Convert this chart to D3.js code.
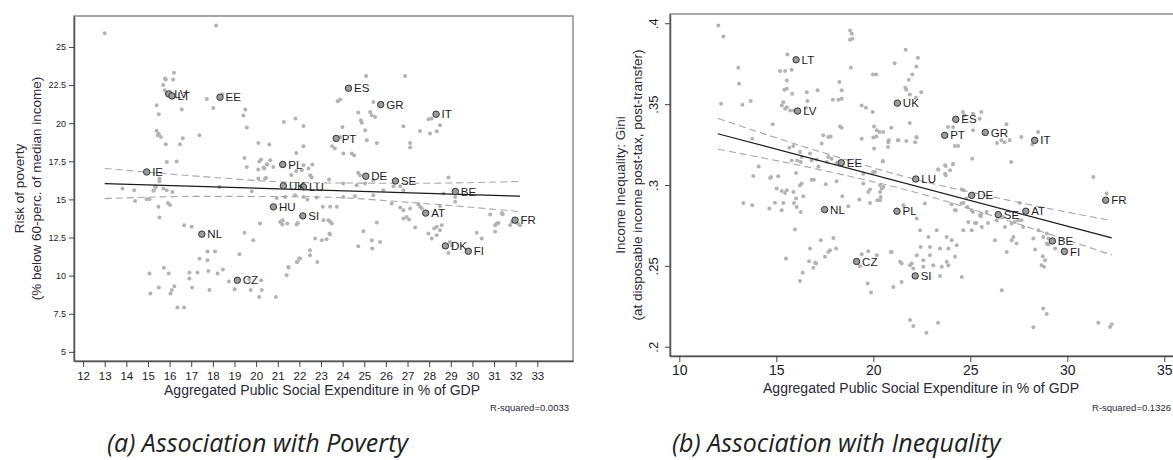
<!DOCTYPE html>
<html>
<head>
<meta charset="utf-8">
<script src="https://cdn.jsdelivr.net/npm/d3@7"></script>
<style>
  body { margin: 0; background: #fff; }
  svg { display: block; font-family: "Liberation Sans", Arial, sans-serif; }
  .caption { font-family: "Open Sans", sans-serif; font-style: italic; }
</style>
</head>
<body>
<svg id="chart" width="1173" height="460"></svg>
<script>
// --- Panel (a): poverty vs. social expenditure ---
const povPoints = [
  [13.0,25.9],[18.15,26.4],
  [15.82,22.86],[16.2,23.3],[16.16,22.86],[15.7,22.5],[15.78,22.16],[15.87,21.98],[15.79,22.93],
  [15.4,21.18],[15.5,20.59],[16.56,20.9],[17.72,21.59],[18.02,21.0],[18.43,21.9],
  [19.5,20.9],[19.41,20.5],[19.57,19.71],[21.28,20.08],[21.82,20.3],[22.19,19.81],
  [15.4,19.5],[15.5,19.3],[15.6,19.1],[15.45,19.2],[15.82,18.62],[16.48,18.62],[16.61,19.01],[17.38,19.21],
  [20.1,18.7],[20.61,18.6],[19.46,17.72],[19.57,17.13],[20.15,17.48],[20.49,17.31],[20.1,16.96],[20.38,17.03],[20.8,17.13],[20.46,16.41],[21.85,16.87],[21.63,16.6],
  [15.87,17.46],[16.33,17.49],[15.53,16.19],[13.82,15.71],[14.36,15.6],[14.4,14.9],[14.94,15.01],[15.07,15.01],[15.28,15.6],[15.37,15.82],[15.87,15.6],[16.13,15.49],[15.48,14.51],[15.92,14.77],[16.02,14.64],[15.53,13.81],[16.67,13.31],[17.02,13.2],
  [18.3,15.82],[19.8,15.54],[20.18,13.42],[21.18,13.59],[21.44,13.42],[21.93,13.46],
  [15.07,10.14],[15.11,8.83],[15.5,9.22],[15.73,10.51],[15.96,10.14],[16.04,8.83],[16.22,9.31],[16.36,7.91],[16.67,7.91],[16.92,10.21],[17.04,9.22],[17.29,10.21],[17.38,11.1],[17.75,11.58],[17.75,11.01],[17.79,10.31],[17.84,9.05],[18.1,11.58],[18.22,10.14],[18.46,10.4],[18.74,9.62],[19.01,9.11],[19.46,12.81],[19.23,11.41],[19.75,9.05],[19.87,12.32],[20.23,9.7],[20.14,8.6],[20.91,8.6],[21.41,10.03],[21.5,10.53],[21.91,10.9],[22.03,11.12],
  [22.19,18.49],[21.85,18.05],[23.88,21.55],[23.77,21.44],[23.99,19.75],[23.51,18.49],[23.64,18.34],[24.03,18.01],
  [20.23,17.62],[20.65,17.57],[20.52,17.29],[20.34,17.09],
  [22.19,17.24],[22.6,17.29],[22.42,17.03],[22.11,16.92],[22.5,16.59],[22.57,16.44],[23.37,16.3],[20.41,16.37],[20.1,16.37],
  [15.53,16.37],[15.33,15.87],[15.71,15.71],[15.25,15.56],
  [20.95,15.1],[21.34,15.16],[21.8,15.28],[22.19,15.16],[22.37,14.99],
  [22.8,15.12],[23.08,14.51],[23.42,14.51],[23.73,14.51],
  [21.23,13.64],[21.21,13.36],[21.87,13.36],[23.11,13.64],[23.42,13.53],[23.5,13.42],
  [23.39,12.77],[23.04,12.32],[22.73,12.43],[22.49,11.67],[22.49,11.34],[22.83,10.9],[21.99,11.12],[21.88,10.9],[21.49,10.57],
  [16.91,9.81],[19.68,9.77],[20.26,9.05],[16.1,9.05],
  [25.08,23.1],[26.89,23.1],[25.42,21.39],[25.27,20.74],[25.35,20.52],[25.5,20.41],[24.72,20.7],[24.84,20.2],[24.88,20.02],[23.88,19.1],[25.04,19.54],[25.12,18.88],[25.58,18.7],
  [26.81,19.8],[27.58,19.49],[28.04,19.32],[28.35,19.47],[28.12,20.3],[27.97,20.26],[28.5,19.87],[27.12,18.7],[27.12,18.4],
  [24.42,18.01],[24.53,17.9],[24.72,16.74],[24.8,16.59],
  [24.03,16.04],[24.65,15.93],[25.04,16.04],[25.42,16.26],[25.88,15.6],[26.35,15.87],[26.66,15.87],[26.81,15.6],
  [24.03,15.16],[24.57,15.21],[25.42,15.28],[28.89,16.44],[28.66,15.39],[29.2,15.16],[29.2,14.84],
  [26.27,14.73],[26.66,14.47],[26.81,14.29],[27.12,14.4],[27.5,14.69],[27.58,14.51],[27.66,14.4],[28.5,14.57],
  [27.35,13.16],[26.96,13.85],[26.81,13.75],[27.07,13.68],
  [27.97,12.77],[28.12,12.44],[28.35,12.65],[28.5,12.98],[28.58,13.31],[28.35,13.2],[28.23,13.09],
  [28.96,12.21],[28.89,11.49],[29.05,11.99],[30.2,12.81],[30.43,12.44],
  [30.82,14.01],[31.36,14.11],[31.12,13.42],[31.05,13.31],[31.2,13.46],[31.05,12.87],[31.74,13.31],[31.82,13.52],[32.1,13.42],[31.4,14.02],[32.2,13.31],
  [25.58,13.49],[24.96,12.91],[25.35,12.32],[25.73,12.21],[25.37,11.78],[24.72,11.93],
  [23.26,12.39],[23.42,12.7],[23.34,13.64],[21.11,13.52]
];
const povCountries = ["IE","LV","LT","EE","PL","UK","LU","HU","SI","NL","CZ","PT","ES","GR","IT","DE","SE","BE","AT","FR","DK","FI"];
const povCountryX  = [14.94,15.96,16.11,18.33,21.23,21.26,22.19,20.8,22.16,17.49,19.13,23.7,24.27,25.76,28.32,25.07,26.44,29.21,27.84,31.97,28.75,29.81];
const povCountryY  = [16.8,21.92,21.79,21.7,17.29,15.89,15.82,14.51,13.92,12.72,9.7,19.0,22.29,21.22,20.59,16.52,16.21,15.52,14.1,13.64,11.95,11.6];
const povFitX   = [13, 32.2];
const povFitY   = [16.04, 15.21];
const povBandX  = [13, 17.5, 22.5, 27.5, 32.2];
const povUpper  = [17.03, 16.5, 16.09, 16.06, 16.18];
const povLower  = [15.05, 15.2, 15.17, 14.76, 14.2];
const povXTicks = d3.range(12, 34);
const povYTicks = [5, 7.5, 10, 12.5, 15, 17.5, 20, 22.5, 25];

// --- Panel (b): inequality vs. social expenditure ---
const giniPoints = [
  [12.01,0.3986],[12.27,0.3918],[18.8,0.3955],[18.89,0.3935],[18.8,0.3898],[18.92,0.3904],
  [15.57,0.3807],[15.19,0.3704],[15.45,0.3704],[15.79,0.3712],[13.04,0.3725],[13.08,0.3626],
  [15.54,0.3646],[15.54,0.3595],[15.41,0.3589],[15.82,0.3564],[16.57,0.3574],[17.13,0.3585],
  [18.25,0.3636],[18.37,0.3585],[18.84,0.3725],[17.91,0.3527],[18.2,0.3527],[18.37,0.3533],[20.14,0.3683],
  [15.36,0.3512],[15.28,0.3492],[15.54,0.3481],[15.71,0.3461],[15.91,0.3461],[15.45,0.3472],
  [16.6,0.3519],[16.53,0.3478],[12.15,0.3502],[13.25,0.3496],[13.68,0.3519],
  [14.81,0.3375],[13.76,0.3286],[14.09,0.3115],[13.81,0.3056],[14.73,0.305],[15.1,0.3054],[14.68,0.3043],
  [15.67,0.3231],[15.88,0.3241],[16.22,0.3204],[15.79,0.3152],[16.08,0.3152],[16.31,0.3173],[16.26,0.3142],
  [16.02,0.3074],[16.22,0.2998],[16.31,0.3009],
  [15.02,0.2978],[15.28,0.2963],[15.45,0.2951],[15.54,0.2967],[15.88,0.2957],[16.02,0.2916],[16.39,0.293],[15.36,0.2889],[15.91,0.2889],[16.05,0.2864],[16.26,0.2833],[15.28,0.2844],
  [13.3,0.2889],[13.76,0.2875],[14.64,0.2854],[14.93,0.2891],
  [16.74,0.3194],[16.82,0.3152],[17.08,0.3157],[17.34,0.3256],[17.68,0.3296],[17.8,0.33],[18.28,0.3362],[18.37,0.3354],[17.42,0.3307],
  [16.82,0.3033],[16.94,0.3033],[17.55,0.3004],[18.11,0.3023],
  [17.17,0.3115],[17.6,0.3142],[17.68,0.3173],[17.85,0.3163],[18.11,0.3136],[18.4,0.293],[18.71,0.2869],
  [19.4,0.3492],[19.62,0.3478],[19.97,0.3451],[20.04,0.3362],[20.18,0.3338],[20.0,0.3293],[20.52,0.3327],
  [19.4,0.3286],[20.04,0.3225],[20.48,0.3146],[19.48,0.307],[20.09,0.308],
  [19.48,0.3009],[19.83,0.2972],[19.28,0.291],[19.74,0.2957],[20.21,0.2906],[20.43,0.2978],[20.38,0.2926],[19.83,0.2889],
  [15.96,0.2725],
  [16.74,0.2607],[17.29,0.2659],[17.94,0.2673],[18.08,0.2607],[17.77,0.2597],[17.68,0.2586],[17.51,0.2556],[17.0,0.2519],[17.05,0.2515],[16.69,0.2529],[16.91,0.2488],[16.36,0.2457],[16.22,0.2406],[15.5,0.2546],
  [19.4,0.2572],[19.74,0.2591],[20.18,0.2566],[19.31,0.2498],[19.71,0.2391],[19.88,0.2336],[20.91,0.2586],
  [21.46,0.2515],[21.89,0.2504],[22.06,0.2484],[21.03,0.237],[21.46,0.2401],
  [21.89,0.2165],[22.06,0.2128],[22.74,0.2086],[23.34,0.2148],
  [20.77,0.3265],[21.29,0.3276],[22.24,0.3293],[22.15,0.3265],
  [20.35,0.2998],[20.52,0.2988],[20.35,0.2957],[20.35,0.2906],
  [21.55,0.2875],[22.66,0.2885],[22.24,0.2793],
  [24.56,0.2972],[24.64,0.2889],[24.21,0.2844],[24.85,0.2864],[25.07,0.2844],[24.9,0.2772],[25.24,0.2765],[25.54,0.2807],[24.64,0.272],
  [23.7,0.3122],[24.12,0.3132],[23.35,0.3095],[23.7,0.307],[23.95,0.3091],
  [22.41,0.272],[22.84,0.2679],[23.27,0.272],[22.44,0.2617],[22.92,0.2617],[23.44,0.2607],[23.78,0.2679],[23.87,0.2607],[24.04,0.2659],[24.3,0.2628],[24.21,0.2556],
  [22.24,0.2566],[22.92,0.2566],[22.58,0.2535],[21.98,0.2515],[22.58,0.2494],[23.09,0.2504],[23.53,0.2494],[23.87,0.2504],[23.44,0.2438],[23.78,0.2525],[21.38,0.2525],[20.95,0.2586],
  [24.56,0.2432],
  [25.07,0.272],[25.59,0.2741],[26.27,0.2659],[26.88,0.2586],[27.13,0.2659],[27.39,0.2638],[27.22,0.2679],
  [26.62,0.235],
  [25.5,0.2813],[25.84,0.2833],[26.36,0.2782],[26.79,0.2741],[27.13,0.2762],[27.73,0.2741],[27.47,0.2782],
  [28.25,0.2669],[28.76,0.2679],[28.34,0.2601],[28.94,0.2638],[28.73,0.256],[28.85,0.2535],[28.8,0.2494],[28.68,0.2504],[29.02,0.2632],[29.37,0.2607],[29.02,0.2669],[28.51,0.272],[28.94,0.27],
  [28.76,0.2237],[28.94,0.2202],[28.25,0.212],
  [31.6,0.2148],[32.2,0.2123],[32.29,0.214],[31.34,0.3049],[32.03,0.2947],
  [21.67,0.3836],[22.3,0.3786],[22.22,0.3733],[22.01,0.3683],[21.83,0.365],[21.65,0.3601],[21.7,0.3589],[21.88,0.356],[22.47,0.3574],[22.19,0.354],[21.1,0.3753],[19.98,0.3683],
  [20.33,0.3327],[20.93,0.3354],[21.27,0.3276],[20.76,0.3235],[20.16,0.33],[20.8,0.3276],[22.22,0.3296],[21.7,0.3272],[21.88,0.3383],
  [20.5,0.3148],[19.98,0.308],
  [23.34,0.3097],[23.73,0.3117],[24.1,0.3126],[23.73,0.306],[25.1,0.3163],[27.11,0.3142],[26.86,0.3375],[27.63,0.3296],[26.77,0.3265],[27.03,0.3276],[25.14,0.3338],
  [24.62,0.3451],[24.71,0.343],[25.14,0.3441],[25.57,0.3451],[25.48,0.341],[23.85,0.3358],[24.11,0.3358],[24.2,0.3241],[24.37,0.3241],
  [26.38,0.3259],[26.6,0.3276],[28.49,0.3327],[28.2,0.3251],
  [27.55,0.2889],
  [24.66,0.2967],[24.79,0.2916],[24.54,0.2885],[24.25,0.2844],[24.03,0.2881],
  [25.14,0.2833],[25.57,0.2823],[25.31,0.2765],[25.91,0.2765],[26.69,0.2802],[27.29,0.2772],[27.63,0.2782]
];
const giniCountries = ["LT","LV","EE","NL","UK","ES","PT","GR","IT","LU","DE","PL","SE","AT","FR","BE","FI","SI","CZ"];
const giniCountryX  = [16.02,16.1,18.35,17.49,21.24,24.25,23.68,25.77,28.32,22.19,25.07,21.22,26.44,27.86,31.98,29.23,29.85,22.16,19.14];
const giniCountryY  = [0.3774,0.3457,0.3138,0.2848,0.3506,0.3406,0.3307,0.3325,0.3276,0.3037,0.2936,0.2838,0.2817,0.2838,0.2906,0.2654,0.2589,0.2438,0.2527];
const giniFitX   = [11.98, 32.29];
const giniFitY   = [0.3317, 0.2673];
const giniBandX  = [12, 17, 22, 27, 32.3];
const giniUpper  = [0.3411, 0.3215, 0.304, 0.2905, 0.2779];
const giniLower  = [0.3221, 0.3101, 0.296, 0.2777, 0.2567];
const giniXTicks = [10, 15, 20, 25, 30, 35];
const giniYTicks = [0.2, 0.25, 0.3, 0.35, 0.4];
const giniYLabels = [".2", ".25", ".3", ".35", ".4"];

const svg = d3.select('#chart');

/**
 * Draws one scatter panel with its fit line, confidence band and labels.
 */
function drawPanel(p) {
  const x = d3.scaleLinear().domain(p.xDomain).range([p.left, p.right]);
  const y = d3.scaleLinear().domain(p.yDomain).range([p.bottom, p.top]);
  const g = svg.append('g');

  // plot region
  g.append('rect')
    .attr('x', p.left).attr('y', p.top)
    .attr('width', p.right - p.left).attr('height', p.bottom - p.top)
    .attr('fill', '#fff').attr('stroke', '#8c8c8c').attr('stroke-width', 1.5);

  // grey observations
  g.append('g').selectAll('circle').data(p.points).join('circle')
    .attr('cx', d => x(d[0])).attr('cy', d => y(d[1]))
    .attr('r', 2).attr('fill', '#b3b3b3');

  // confidence band (dashed) and fit line
  const band = d3.line().x((d, i) => x(p.bandX[i])).y(d => y(d)).curve(d3.curveMonotoneX);
  [p.upper, p.lower].forEach(vals => {
    g.append('path').attr('d', band(vals))
      .attr('fill', 'none').attr('stroke', '#a8a8a8')
      .attr('stroke-width', 1.1).attr('stroke-dasharray', '7,4');
  });
  g.append('path')
    .attr('d', d3.line().x((d, i) => x(p.fitX[i])).y(d => y(d))(p.fitY))
    .attr('fill', 'none').attr('stroke', '#1a1a1a').attr('stroke-width', 1.2);

  // highlighted countries
  const labelled = p.countries.map((c, i) => ({ c, x: p.cx[i], y: p.cy[i] }));
  g.append('g').selectAll('circle').data(labelled).join('circle')
    .attr('cx', d => x(d.x)).attr('cy', d => y(d.y))
    .attr('r', 3.2).attr('fill', '#9c9c9c').attr('stroke', '#333').attr('stroke-width', 1);
  g.append('g').selectAll('text').data(labelled).join('text')
    .attr('x', d => x(d.x) + 5.5).attr('y', d => y(d.y))
    .attr('dy', '0.36em').attr('font-size', 11.5).attr('fill', '#1c1c28')
    .text(d => d.c);

  // axes
  const xAxis = g.append('g').attr('transform', `translate(0,${p.bottom})`)
    .call(d3.axisBottom(x).tickValues(p.xTicks).tickSize(6).tickSizeOuter(0).tickPadding(p.xPad));
  xAxis.selectAll('text').attr('font-size', p.xFont).attr('fill', '#1c1c28');

  const yAxis = g.append('g').attr('transform', `translate(${p.left},0)`)
    .call(d3.axisLeft(y).tickValues(p.yTicks).tickSize(5).tickSizeOuter(0)
      .tickFormat((d, i) => p.yLabels ? p.yLabels[i] : d));
  yAxis.selectAll('text').attr('font-size', p.yFont).attr('fill', '#1c1c28');
  if (p.rotateY) {
    yAxis.selectAll('text')
      .attr('x', null).attr('dy', null).attr('text-anchor', 'middle')
      .attr('transform', 'translate(-12,0) rotate(-90)');
  }
  [xAxis, yAxis].forEach(a => {
    a.select('.domain').attr('stroke', '#555').attr('stroke-width', 1.5);
    a.selectAll('.tick line').attr('stroke', '#444');
  });

  // titles
  g.append('text')
    .attr('x', p.xTitleX).attr('y', p.bottom + p.xTitleDy)
    .attr('text-anchor', 'middle').attr('font-size', 14).attr('fill', '#2a2a36')
    .text('Aggregated Public Social Expenditure in % of GDP');
  p.yTitle.forEach((t, i) => {
    g.append('text')
      .attr('transform', `translate(${p.yTitleX[i]},${(p.top + p.bottom) / 2}) rotate(-90)`)
      .attr('text-anchor', 'middle').attr('font-size', 13.5).attr('fill', '#2a2a36')
      .text(t);
  });
  g.append('text')
    .attr('x', p.rsqX).attr('y', 411)
    .attr('text-anchor', 'end').attr('font-size', 9.5).attr('fill', '#2a2a36')
    .text(p.rsq);
  g.append('text')
    .attr('class', 'caption')
    .attr('x', p.captionX).attr('y', 452)
    .attr('font-size', 25).attr('fill', '#222')
    .text(p.caption);
}

drawPanel({
  left: 74, right: 573, top: 16, bottom: 361,
  xDomain: [11.58, 34.65], yDomain: [4.4, 27.03],
  points: povPoints, countries: povCountries, cx: povCountryX, cy: povCountryY,
  fitX: povFitX, fitY: povFitY, bandX: povBandX, upper: povUpper, lower: povLower,
  xTicks: povXTicks, yTicks: povYTicks, xFont: 11.5, yFont: 9, xPad: 5,
  xTitleX: 322, xTitleDy: 34,
  yTitle: ['Risk of poverty', '(% below 60-perc. of median income)'], yTitleX: [24, 41],
  rsq: 'R-squared=0.0033', rsqX: 569,
  caption: '(a) Association with Poverty', captionX: 107
});

drawPanel({
  left: 670, right: 1174, top: 14, bottom: 356,
  xDomain: [9.52, 35.5], yDomain: [0.1943, 0.4057],
  points: giniPoints, countries: giniCountries, cx: giniCountryX, cy: giniCountryY,
  fitX: giniFitX, fitY: giniFitY, bandX: giniBandX, upper: giniUpper, lower: giniLower,
  xTicks: giniXTicks, yTicks: giniYTicks, yLabels: giniYLabels, xFont: 14, yFont: 13, xPad: 3,
  rotateY: true,
  xTitleX: 921, xTitleDy: 37,
  yTitle: ['Income Inequality: Gini', '(at disposable income post-tax, post-transfer)'], yTitleX: [625, 642],
  rsq: 'R-squared=0.1326', rsqX: 1171,
  caption: '(b) Association with Inequality', captionX: 672
});
</script>
</body>
</html>
